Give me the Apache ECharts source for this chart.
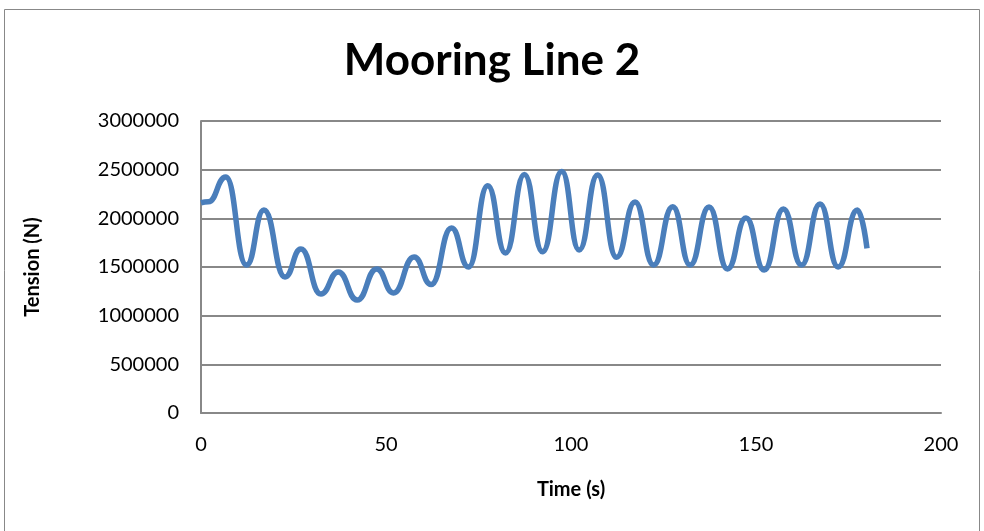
<!DOCTYPE html>
<html>
<head>
<meta charset="utf-8">
<script src="https://cdn.jsdelivr.net/npm/echarts@6/dist/echarts.min.js"></script>
<style>
  html, body { margin: 0; padding: 0; background: #fff; }
  #main { width: 984px; height: 531px; }
</style>
</head>
<body>
<div id="main"></div>
<script>
// time (s) at the points
var time = [0, 2, 6.7, 12.3, 17, 22.7, 27, 32.4, 37.1, 42.2, 47.5, 52, 57.6, 62.2,
  67.7, 72.3, 77.5, 82.3, 87.4, 92.3, 97.5, 102.2, 107.2, 112.3, 117.3, 122.3,
  127.5, 132.2, 137.3, 142.3, 147.3, 152.2, 157.4, 162.3, 167.3, 172.2, 177.4, 180];
// tension (N)
var tension = [2160000, 2170000, 2425000, 1520000, 2086000, 1397000, 1685000, 1223000,
  1449000, 1161000, 1480000, 1233000, 1603000, 1320000,
  1900000, 1500000, 2335000, 1644000, 2450000, 1657000, 2480000, 1675000,
  2445000, 1600000, 2168000, 1520000, 2120000, 1520000, 2116000, 1480000,
  2003000, 1469000, 2096000, 1520000, 2147000, 1500000, 2086000, 1692000];
var xTicks = [0, 50, 100, 150, 200];
var yTicks = [0, 500000, 1000000, 1500000, 2000000, 2500000, 3000000];

var points = time.map(function (t, i) { return [t, tension[i]]; });
var font = 'Lato, "Open Sans", sans-serif';

var myChart = echarts.init(document.getElementById('main'));
myChart.setOption({
  animation: false,
  backgroundColor: '#fff',
  graphic: [{
    type: 'rect',
    shape: { x: 4.5, y: 9.5, width: 975, height: 540 },
    style: { fill: 'none', stroke: '#888', lineWidth: 1 }
  }],
  title: {
    text: 'Mooring Line 2',
    left: 'center',
    top: 34,
    textStyle: { fontFamily: font, fontSize: 44, fontWeight: 'bold', color: '#000' }
  },
  grid: { left: 201, right: 43, top: 121, bottom: 118 },
  xAxis: {
    type: 'value',
    min: xTicks[0],
    max: xTicks[xTicks.length - 1],
    interval: 50,
    name: 'Time (s)',
    nameLocation: 'middle',
    nameGap: 67,
    nameTextStyle: { fontFamily: font, fontSize: 20, fontWeight: 'bold', color: '#000' },
    axisLine: { lineStyle: { color: '#888', width: 2 } },
    axisTick: { show: false },
    splitLine: { show: false },
    axisLabel: { fontFamily: font, fontSize: 20, color: '#000', margin: 22 }
  },
  yAxis: {
    type: 'value',
    min: yTicks[0],
    max: yTicks[yTicks.length - 1],
    interval: 500000,
    name: 'Tension (N)',
    nameLocation: 'middle',
    nameGap: 158,
    nameRotate: 90,
    nameTextStyle: { fontFamily: font, fontSize: 20, fontWeight: 'bold', color: '#000' },
    axisLine: { show: true, lineStyle: { color: '#888', width: 2 } },
    axisTick: { show: false },
    splitLine: { lineStyle: { color: '#888', width: 2 } },
    axisLabel: {
      fontFamily: font, fontSize: 20, color: '#000', margin: 22,
      formatter: function (v) { return String(v); }
    }
  },
  series: [{
    type: 'line',
    data: points,
    smooth: 0.5,
    smoothMonotone: 'x',
    showSymbol: false,
    lineStyle: { color: '#4a7ebb', width: 5.5 }
  }]
});
</script>
</body>
</html>
